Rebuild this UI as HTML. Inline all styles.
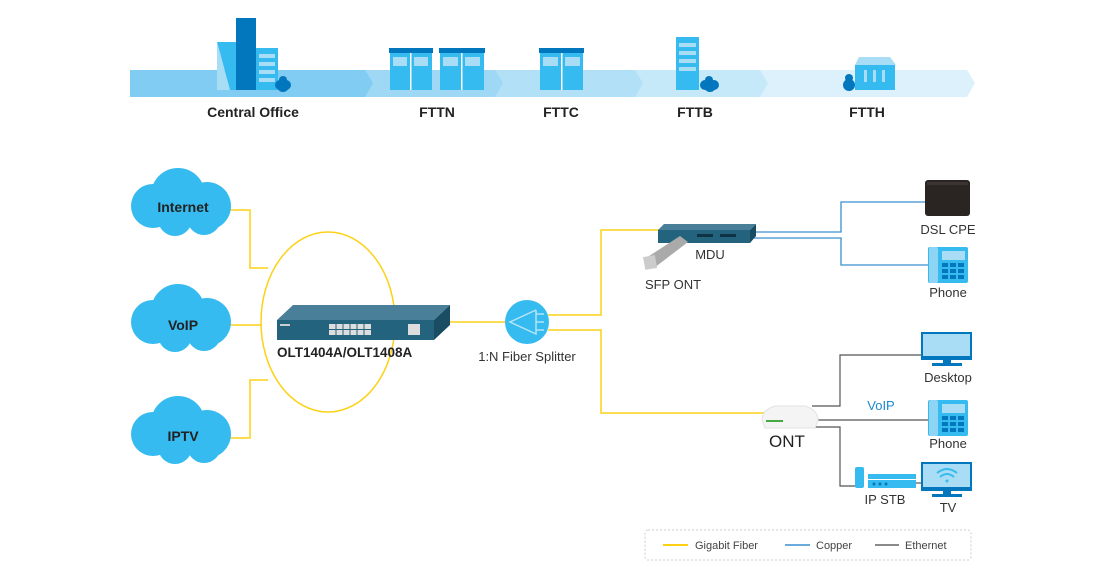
<!DOCTYPE html>
<html><head><meta charset="utf-8"><style>
html,body{margin:0;padding:0;background:#fff;}
svg{display:block;font-family:"Liberation Sans",sans-serif;}
</style></head><body>
<svg width="1110" height="580" viewBox="0 0 1110 580" xmlns="http://www.w3.org/2000/svg">
<!-- banner -->
<polygon points="760,70 967,70 975,83 967,97 760,97" fill="#dcf1fb"/>
<polygon points="635,70 760,70 768,83 760,97 635,97" fill="#c6e9fa"/>
<polygon points="495,70 635,70 643,83 635,97 495,97" fill="#b2e0f7"/>
<polygon points="365,70 495,70 503,83 495,97 365,97" fill="#9fd8f5"/>
<polygon points="130,70 365,70 373,83 365,97 130,97" fill="#80ccf2"/>
<!-- CO -->
<polygon points="217,42 236,42 236,90 230,90" fill="#35bbef"/>
<polygon points="217,42 230,90 217,90" fill="#a9dcf5"/>
<rect x="236" y="18" width="20" height="72" fill="#0277bd"/>
<rect x="256" y="48" width="22" height="42" fill="#35bbef"/>
<g fill="#a9dcf5"><rect x="259" y="54" width="16" height="4"/><rect x="259" y="62" width="16" height="4"/><rect x="259" y="70" width="16" height="4"/><rect x="259" y="78" width="16" height="4"/></g>
<g fill="#0277bd"><circle cx="283" cy="86" r="6"/><circle cx="280" cy="85" r="5"/><circle cx="286" cy="85" r="5"/><circle cx="283" cy="80" r="4"/></g>
<!-- FTTN -->
<g>
<rect x="390" y="52" width="42" height="38" fill="#35bbef"/><rect x="389" y="48" width="44" height="5" fill="#0277bd"/>
<rect x="410" y="53" width="1.5" height="37" fill="#fff"/>
<rect x="393" y="57" width="14" height="9" fill="#a9dcf5"/><rect x="414" y="57" width="14" height="9" fill="#a9dcf5"/>
<rect x="440" y="52" width="44" height="38" fill="#35bbef"/><rect x="439" y="48" width="46" height="5" fill="#0277bd"/>
<rect x="461" y="53" width="1.5" height="37" fill="#fff"/>
<rect x="443" y="57" width="15" height="9" fill="#a9dcf5"/><rect x="465" y="57" width="15" height="9" fill="#a9dcf5"/>
</g>
<!-- FTTC -->
<rect x="540" y="52" width="43" height="38" fill="#35bbef"/><rect x="539" y="48" width="45" height="5" fill="#0277bd"/>
<rect x="561" y="53" width="1.5" height="37" fill="#fff"/>
<rect x="543" y="57" width="15" height="9" fill="#a9dcf5"/><rect x="565" y="57" width="15" height="9" fill="#a9dcf5"/>
<!-- FTTB -->
<rect x="676" y="37" width="23" height="53" fill="#35bbef"/>
<g fill="#a9dcf5"><rect x="679" y="43" width="17" height="4"/><rect x="679" y="51" width="17" height="4"/><rect x="679" y="59" width="17" height="4"/><rect x="679" y="67" width="17" height="4"/></g>
<g fill="#0277bd"><circle cx="710" cy="86" r="6"/><circle cx="705" cy="85" r="5"/><circle cx="714" cy="85" r="5"/><circle cx="709" cy="80" r="4"/></g>
<!-- FTTH -->
<polygon points="859,57 890,57 896,65 855,65" fill="#a9dcf5"/>
<rect x="855" y="65" width="40" height="25" fill="#35bbef"/>
<g fill="#a9dcf5"><rect x="864" y="70" width="3" height="12"/><rect x="873" y="70" width="3" height="12"/><rect x="882" y="70" width="3" height="12"/></g>
<g fill="#0277bd"><ellipse cx="849" cy="85" rx="6" ry="6"/><circle cx="849" cy="78" r="4"/></g>
<g font-weight="bold" font-size="14" fill="#222" text-anchor="middle">
<text x="253" y="117">Central Office</text><text x="437" y="117">FTTN</text><text x="561" y="117">FTTC</text><text x="695" y="117">FTTB</text><text x="867" y="117">FTTH</text>
</g>

<!-- yellow fiber lines -->
<g stroke="#fcd116" stroke-width="1.5" fill="none">
<polyline points="228,210 250,210 250,268 268,268"/>
<line x1="228" y1="325" x2="262" y2="325"/>
<polyline points="228,438 250,438 250,380 268,380"/>
<ellipse cx="328" cy="322" rx="67" ry="90"/>
<line x1="448" y1="322" x2="506" y2="322"/>
<polyline points="548,315 601,315 601,230 662,230"/>
<polyline points="548,330 601,330 601,413 772,413"/>
</g>
<!-- clouds -->
<g fill="#35bbef">
<g><circle cx="153" cy="206" r="22"/><circle cx="178" cy="195" r="27"/><circle cx="207" cy="206" r="24"/><circle cx="175" cy="219" r="17"/><circle cx="204" cy="218" r="17"/></g>
<g transform="translate(0,116)"><circle cx="153" cy="206" r="22"/><circle cx="178" cy="195" r="27"/><circle cx="207" cy="206" r="24"/><circle cx="175" cy="219" r="17"/><circle cx="204" cy="218" r="17"/></g>
<g transform="translate(0,228)"><circle cx="153" cy="206" r="22"/><circle cx="178" cy="195" r="27"/><circle cx="207" cy="206" r="24"/><circle cx="175" cy="219" r="17"/><circle cx="204" cy="218" r="17"/></g>
</g>
<g font-weight="bold" font-size="14" fill="#222" text-anchor="middle">
<text x="183" y="212">Internet</text><text x="183" y="330">VoIP</text><text x="183" y="441">IPTV</text>
</g>
<!-- OLT -->
<polygon points="277,320 293,305 450,305 434,320" fill="#4a7f9a"/>
<rect x="277" y="320" width="157" height="20" fill="#23637e"/>
<polygon points="434,320 450,305 450,325 434,340" fill="#1a4d63"/>
<rect x="329" y="324" width="42" height="11" fill="#ddd"/>
<g stroke="#23637e" stroke-width="1"><line x1="329" y1="329.5" x2="371" y2="329.5"/><line x1="336" y1="324" x2="336" y2="335"/><line x1="343" y1="324" x2="343" y2="335"/><line x1="350" y1="324" x2="350" y2="335"/><line x1="357" y1="324" x2="357" y2="335"/><line x1="364" y1="324" x2="364" y2="335"/></g>
<rect x="408" y="324" width="12" height="11" fill="#ddd"/>
<rect x="280" y="324" width="10" height="2" fill="#ccc"/>
<text x="277" y="357" font-weight="bold" font-size="13.5" fill="#222">OLT1404A/OLT1408A</text>
<!-- splitter -->
<circle cx="527" cy="322" r="22" fill="#35bbef"/>
<g stroke="#b3e5fa" stroke-width="1.5" fill="none"><polyline points="536,310 510,322 536,334 536,310"/><line x1="536" y1="314" x2="544" y2="314"/><line x1="536" y1="322" x2="544" y2="322"/><line x1="536" y1="330" x2="544" y2="330"/></g>
<text x="527" y="361" font-size="13" fill="#333" text-anchor="middle">1:N Fiber Splitter</text>
<!-- copper -->
<g stroke="#3a8fd0" stroke-width="1.3" fill="none">
<polyline points="752,232 841,232 841,202 925,202"/>
<polyline points="752,238 841,238 841,265 928,265"/>
</g>
<!-- MDU -->
<polygon points="658,230 664,224 756,224 750,230" fill="#4a7f9a"/>
<rect x="658" y="230" width="92" height="13" fill="#23637e"/>
<polygon points="750,230 756,224 756,236 750,243" fill="#1a4d63"/>
<rect x="697" y="234" width="16" height="3" fill="#0d3345"/><rect x="720" y="234" width="16" height="3" fill="#0d3345"/>
<polygon points="646,258 680,236 688,242 654,268" fill="#aaa"/>
<rect x="644" y="256" width="12" height="13" fill="#ccc" transform="rotate(-10 650 262)"/>
<text x="710" y="259" font-size="13" fill="#333" text-anchor="middle">MDU</text>
<text x="673" y="289" font-size="13" fill="#333" text-anchor="middle">SFP ONT</text>
<!-- DSL CPE -->
<rect x="925" y="180" width="45" height="36" rx="3" fill="#2a2523"/>
<rect x="927" y="182" width="41" height="3" fill="#3a3533"/>
<text x="948" y="234" font-size="13" fill="#333" text-anchor="middle">DSL CPE</text>
<!-- phones -->
<g>
<rect x="928" y="247" width="40" height="36" rx="2" fill="#35bbef"/>
<rect x="929" y="247" width="9" height="36" rx="2" fill="#8ed4f5"/>
<rect x="942" y="251" width="23" height="9" fill="#a9dcf5"/>
<g fill="#0277bd"><rect x="942" y="263" width="6" height="4"/><rect x="950" y="263" width="6" height="4"/><rect x="958" y="263" width="6" height="4"/><rect x="942" y="269" width="6" height="4"/><rect x="950" y="269" width="6" height="4"/><rect x="958" y="269" width="6" height="4"/><rect x="942" y="275" width="6" height="4"/><rect x="950" y="275" width="6" height="4"/><rect x="958" y="275" width="6" height="4"/></g>
</g>
<text x="948" y="297" font-size="13" fill="#333" text-anchor="middle">Phone</text>
<g transform="translate(0,153)">
<rect x="928" y="247" width="40" height="36" rx="2" fill="#35bbef"/>
<rect x="929" y="247" width="9" height="36" rx="2" fill="#8ed4f5"/>
<rect x="942" y="251" width="23" height="9" fill="#a9dcf5"/>
<g fill="#0277bd"><rect x="942" y="263" width="6" height="4"/><rect x="950" y="263" width="6" height="4"/><rect x="958" y="263" width="6" height="4"/><rect x="942" y="269" width="6" height="4"/><rect x="950" y="269" width="6" height="4"/><rect x="958" y="269" width="6" height="4"/><rect x="942" y="275" width="6" height="4"/><rect x="950" y="275" width="6" height="4"/><rect x="958" y="275" width="6" height="4"/></g>
</g>
<text x="948" y="448" font-size="13" fill="#333" text-anchor="middle">Phone</text>
<!-- ethernet -->
<g stroke="#555" stroke-width="1.2" fill="none">
<polyline points="812,406 840,406 840,355 922,355"/>
<line x1="814" y1="420" x2="928" y2="420"/>
<polyline points="812,427 840,427 840,486 856,486"/>
<line x1="915" y1="483" x2="921" y2="483"/>
</g>
<text x="881" y="410" font-size="13" fill="#1e88d2" text-anchor="middle">VoIP</text>
<!-- Desktop -->
<rect x="921" y="332" width="51" height="28" fill="#0277bd"/><rect x="923" y="334" width="47" height="22" fill="#a9dcf5"/>
<rect x="943" y="360" width="8" height="3" fill="#0277bd"/><rect x="932" y="363" width="30" height="3" fill="#0277bd"/>
<text x="948" y="382" font-size="13" fill="#333" text-anchor="middle">Desktop</text>
<!-- ONT -->
<path d="M762,420 Q762,410 775,406 L805,406 Q818,410 818,420 L815,428 L765,428 Z" fill="#f4f4f4" stroke="#e2e2e2"/>
<rect x="766" y="420" width="17" height="2" fill="#4a4"/>
<text x="787" y="447" font-size="17" fill="#222" text-anchor="middle">ONT</text>
<!-- STB -->
<rect x="855" y="467" width="9" height="21" rx="2" fill="#35bbef"/>
<rect x="868" y="474" width="48" height="5" fill="#35bbef"/><rect x="868" y="480" width="48" height="8" fill="#35bbef"/>
<g fill="#0277bd"><circle cx="874" cy="484" r="1.5"/><circle cx="880" cy="484" r="1.5"/><circle cx="886" cy="484" r="1.5"/></g>
<text x="885" y="504" font-size="13" fill="#333" text-anchor="middle">IP STB</text>
<!-- TV -->
<rect x="921" y="462" width="51" height="29" fill="#0277bd"/><rect x="923" y="464" width="47" height="23" fill="#a9dcf5"/>
<g stroke="#35bbef" stroke-width="2" fill="none"><path d="M937,473 Q947,465 957,473"/><path d="M940,477 Q947,471 954,477"/></g>
<circle cx="947" cy="481" r="1.5" fill="#35bbef"/>
<rect x="943" y="491" width="8" height="3" fill="#0277bd"/><rect x="932" y="494" width="30" height="3" fill="#0277bd"/>
<text x="948" y="512" font-size="13" fill="#333" text-anchor="middle">TV</text>
<!-- legend -->
<rect x="645" y="530" width="326" height="30" rx="3" fill="none" stroke="#ccc" stroke-dasharray="2,2"/>
<line x1="663" y1="545" x2="688" y2="545" stroke="#fcd116" stroke-width="2"/>
<line x1="785" y1="545" x2="810" y2="545" stroke="#3a8fd0" stroke-width="1.5"/>
<line x1="875" y1="545" x2="899" y2="545" stroke="#444" stroke-width="1.3"/>
<g font-size="11" fill="#444"><text x="695" y="549">Gigabit Fiber</text><text x="816" y="549">Copper</text><text x="905" y="549">Ethernet</text></g>
</svg>
</body></html>
